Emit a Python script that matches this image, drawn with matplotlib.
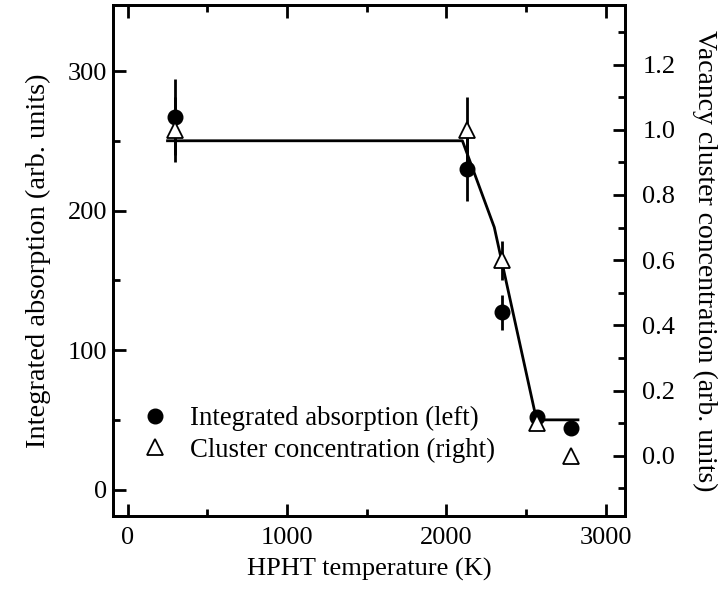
import numpy as np
from matplotlib import pyplot as plt
from matplotlib.lines import Line2D

plt.rcParams['font.family'] = ['Liberation Serif', 'DejaVu Serif']

# integrated absorption (left axis)
temp_abs = [300, 2130, 2350, 2570, 2780]
absorption = [267, 230, 127, 52, 44]
absorption_err = [27, 23, 12.5, 0, 0]

# vacancy cluster concentration (right axis)
temp_cl = [300, 2130, 2350, 2570, 2780]
cluster = [1.0, 1.0, 0.6, 0.1, 0.0]
cluster_err = [0.1, 0.1, 0.06, 0, 0]

# guide line (left axis)
fit_t = [250, 2100, 2300, 2565, 2825]
fit_y = [250, 250, 188, 50, 50]

fig = plt.figure(figsize=(7.2, 5.9), dpi=100)
ax = fig.add_axes([113 / 720, 1 - 516 / 590, 512 / 720, 511 / 590])
ax2 = ax.twinx()

ax.plot(fit_t, fit_y, color='black', lw=2, zorder=2)
ax.errorbar(temp_abs, absorption, yerr=absorption_err, fmt='o', color='black',
            ms=10.5, elinewidth=2, capsize=0, zorder=3)
ax2.errorbar(temp_cl, cluster, yerr=cluster_err, fmt='^', color='black', mfc='white',
             mec='black', mew=1.3, ms=11, elinewidth=2, capsize=0, zorder=3)

ax.set_xlim(-92, 3120)
ax.set_ylim(-18.9, 347.3)
ax2.set_ylim(-0.185, 1.383)

ax.set_xticks([0, 1000, 2000, 3000])
ax.set_xticks([500, 1500, 2500], minor=True)
ax.set_yticks([0, 100, 200, 300])
ax.set_yticks([50, 150, 250], minor=True)
ax2.set_yticks([0.0, 0.2, 0.4, 0.6, 0.8, 1.0, 1.2])
ax2.set_yticks(np.arange(-0.1, 1.35, 0.2), minor=True)
ax2.set_yticklabels(['0.0', '0.2', '0.4', '0.6', '0.8', '1.0', '1.2'])

for a in (ax, ax2):
    for s in a.spines.values():
        s.set_linewidth(2)
    a.tick_params(which='both', direction='in', width=2, labelsize=19)
    a.tick_params(which='major', length=9)
    a.tick_params(which='minor', length=5)
ax.tick_params(axis='x', top=True, which='both', pad=8)
ax.tick_params(axis='y', right=False, which='both', pad=4)
ax2.tick_params(axis='y', which='both', pad=12.5)

ax.set_xlabel('HPHT temperature (K)', fontsize=19, labelpad=6)
ax.set_ylabel('Integrated absorption (arb. units)', fontsize=20.5, labelpad=12)
ax2.set_ylabel('Vacancy cluster concentration (arb. units)', fontsize=20,
               rotation=-90, labelpad=30)

handles = [
    Line2D([], [], ls='none', marker='o', color='black', ms=10.5),
    Line2D([], [], ls='none', marker='^', color='black', mfc='white', mew=1.3, ms=11),
]
ax2.legend(handles, ['Integrated absorption (left)', 'Cluster concentration (right)'],
           loc='lower left', bbox_to_anchor=(0.009, 0.057), frameon=False,
           fontsize=19.3, handlelength=1.0, handletextpad=0.8, labelspacing=0.25)

fig.savefig('out.png', dpi=100)
